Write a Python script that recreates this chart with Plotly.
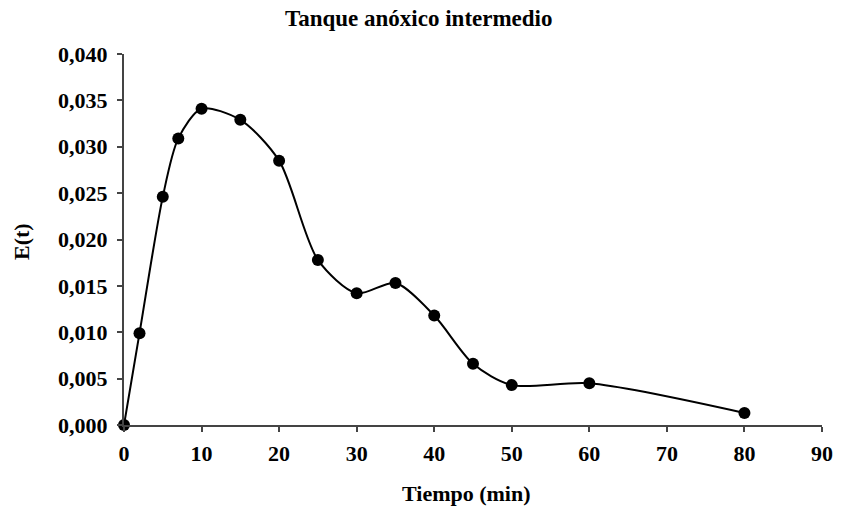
import plotly.graph_objects as go

tiempo = [0, 2, 5, 7, 10, 15, 20, 25, 30, 35, 40, 45, 50, 60, 80]
e_t = [0.0, 0.0099, 0.0246, 0.0309, 0.0341, 0.0329, 0.0285, 0.0178, 0.0142, 0.0153,
       0.0118, 0.0066, 0.0043, 0.0045, 0.0013]
x_ticks = [0, 10, 20, 30, 40, 50, 60, 70, 80, 90]
y_ticks = [0.000, 0.005, 0.010, 0.015, 0.020, 0.025, 0.030, 0.035, 0.040]
y_tick_labels = ["0,000", "0,005", "0,010", "0,015", "0,020", "0,025", "0,030", "0,035", "0,040"]

FONT = "Liberation Serif"
FS = 22

fig = go.Figure()
fig.add_trace(go.Scatter(
    x=tiempo, y=e_t, mode="lines+markers",
    line=dict(color="black", width=2, shape="spline", smoothing=0.8),
    marker=dict(color="black", size=12),
    cliponaxis=False, showlegend=False,
))

axis_common = dict(
    showgrid=False, zeroline=False, showline=True, linecolor="#444", linewidth=2,
    ticks="outside", ticklen=5, tickwidth=2, tickcolor="#444", automargin=False,
    tickfont=dict(family=FONT, size=FS, color="black", weight="bold"),
)

fig.update_layout(
    width=846, height=507,
    margin=dict(l=124, r=24, t=54, b=82),
    paper_bgcolor="white", plot_bgcolor="white",
    xaxis=dict(range=[0, 90], tickvals=x_ticks, ticklabelstandoff=3, **axis_common),
    yaxis=dict(range=[0, 0.040], tickvals=y_ticks, ticktext=y_tick_labels,
               ticklabelstandoff=5, **axis_common),
    annotations=[
        dict(text="<b>Tanque anóxico intermedio</b>", xref="paper", yref="paper",
             x=(419 - 124) / 698, y=1, yshift=36, xanchor="center", yanchor="middle",
             showarrow=False, font=dict(family=FONT, size=23, color="black")),
        dict(text="<b>Tiempo (min)</b>", xref="paper", yref="paper",
             x=(466 - 124) / 698, y=0, yshift=-68, xanchor="center", yanchor="middle",
             showarrow=False, font=dict(family=FONT, size=FS, color="black")),
        dict(text="<b>E(t)</b>", xref="paper", yref="paper", textangle=-90,
             x=0, xshift=-102, y=(425 - 242) / 371, xanchor="center", yanchor="middle",
             showarrow=False, font=dict(family=FONT, size=FS, color="black")),
    ],
)

fig.write_html(
    "out.html",
    config={"displayModeBar": False},
    post_script="document.body.style.margin='0';document.body.style.overflow='hidden';",
)
